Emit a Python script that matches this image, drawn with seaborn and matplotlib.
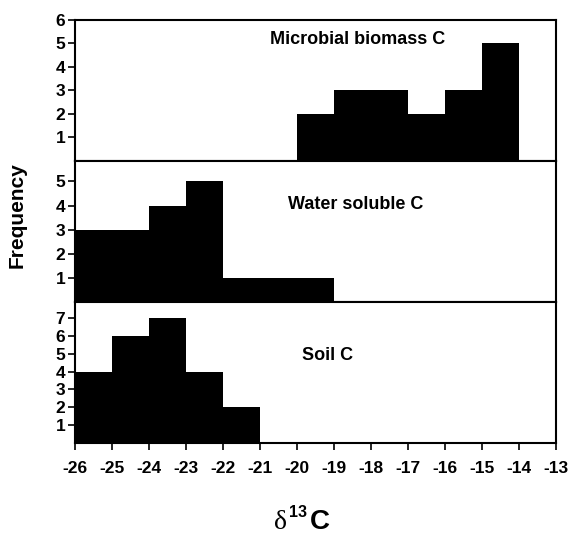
import numpy as np
import matplotlib
matplotlib.use("Agg")
import matplotlib.pyplot as plt
import seaborn as sns

# bin edges (delta 13C, per mil) and frequencies for each pool
edges = list(range(-26, -12))
micro_centres = [-19.5, -18.5, -17.5, -16.5, -15.5, -14.5]
micro_counts = [2, 3, 3, 2, 3, 5]
water_centres = [-25.5, -24.5, -23.5, -22.5, -21.5, -20.5, -19.5]
water_counts = [3, 3, 4, 5, 1, 1, 1]
soil_centres = [-25.5, -24.5, -23.5, -22.5, -21.5]
soil_counts = [4, 6, 7, 4, 2]

panel_names = ["Microbial biomass C", "Water soluble C", "Soil C"]
xticks = list(range(-26, -12))

sns.set_style("white")
plt.rcParams["font.family"] = ["Liberation Sans", "DejaVu Sans"]
plt.rcParams["font.weight"] = "bold"
for k in ["text.color", "axes.labelcolor", "xtick.color", "ytick.color"]:
    plt.rcParams[k] = "black"

fig, axes = plt.subplots(3, 1, figsize=(5.68, 5.39), dpi=100, sharex=True)
fig.subplots_adjust(left=0.132, right=0.979, bottom=0.178, top=0.963, hspace=0)

panels = [
    (micro_centres, micro_counts, 6.0, [1, 2, 3, 4, 5, 6], (0.629, 0.926)),
    (water_centres, water_counts, 5.85, [1, 2, 3, 4, 5], (0.627, 0.62)),
    (soil_centres, soil_counts, 7.9, [1, 2, 3, 4, 5, 6, 7], (0.576, 0.341)),
]

for ax, (cx, cnt, ytop, yt, pos), name in zip(axes, panels, panel_names):
    sns.histplot(x=cx, weights=cnt, bins=edges, ax=ax, color="black",
                 alpha=1, linewidth=0)
    ax.set_xlim(-26, -13)
    ax.set_ylim(0, ytop)
    ax.set_yticks(yt)
    ax.set_ylabel("")
    ax.tick_params(axis="y", direction="out", length=5, width=1.2,
                   left=True, labelsize=12.5, pad=2)
    for s in ax.spines.values():
        s.set_linewidth(1.5)
        s.set_color("black")
    fig.text(pos[0], pos[1], name, ha="center", va="center",
             fontsize=13, fontweight="bold")
    for lab in ax.get_yticklabels():
        lab.set_fontweight("bold")

axes[-1].set_xticks(xticks)
axes[-1].set_xticklabels([str(t) for t in xticks], fontweight="bold")
axes[-1].tick_params(axis="x", direction="out", length=5, width=1.2,
                     bottom=True, labelsize=12.5, pad=8)
for ax in axes[:-1]:
    ax.tick_params(axis="x", bottom=False)

fig.text(0.031, 0.601, "Frequency", rotation=90, ha="center", va="center",
         fontsize=15, fontweight="bold")

# delta 13C axis label
fig.text(0.482, 0.019, "δ", family="Liberation Serif", fontsize=20,
         fontweight="normal", ha="left", va="baseline")
fig.text(0.508, 0.041, "13", fontsize=11.5, fontweight="bold",
         ha="left", va="baseline")
fig.text(0.545, 0.019, "C", fontsize=20, fontweight="bold",
         ha="left", va="baseline")

fig.savefig("out.png", dpi=100)
